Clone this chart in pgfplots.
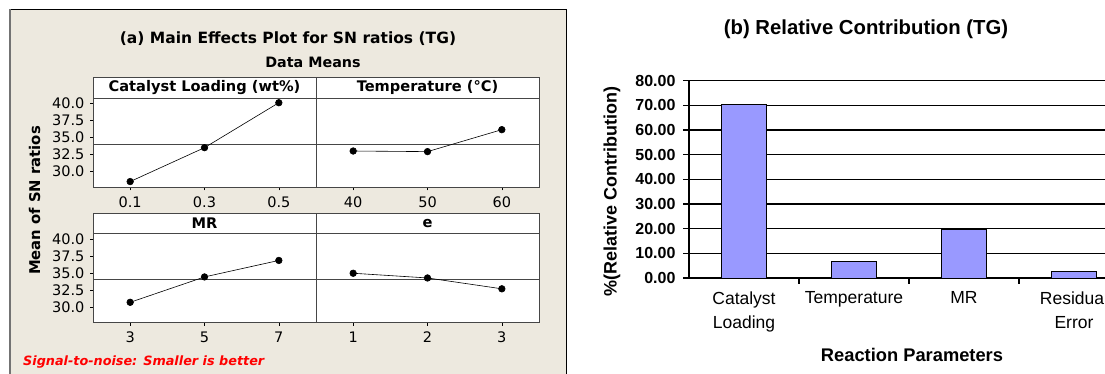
\documentclass[border=0pt]{standalone}
\usepackage{pgfplots}
\pgfplotsset{compat=1.18}
\usepackage{fontspec}
\setmainfont{DejaVu Sans}
\newfontfamily\lib{Liberation Sans}
\definecolor{beige}{RGB}{237,233,223}
\definecolor{framec}{RGB}{70,70,70}
\definecolor{barc}{RGB}{153,153,255}
\newcommand{\tf}{\fontsize{14.5}{16}\selectfont}
\newcommand{\hdr}[1]{%
  \draw[framec, line width=0.8pt, fill=white] (rel axis cs:0,1) rectangle (rel axis cs:1,1.2315);
  \node[font=\bfseries\fontsize{14.6}{16}\selectfont] at (rel axis cs:0.5,1.116) {#1};}
\pgfplotsset{
 panel/.style={
  scale only axis, width=223pt, height=89pt,
  xmin=-0.5, xmax=2.5, ymin=27.7, ymax=40.75,
  axis line style={framec, line width=0.8pt},
  axis background/.style={fill=white},
  xtick={0,1,2},
  tick align=outside, major tick length=3pt,
  xtick pos=bottom, ytick pos=left,
  tick style={black, line width=0.6pt},
  ytick={30,32.5,35,37.5,40},
  yticklabels={{\tf 30.0},{\tf 32.5},{\tf 35.0},{\tf 37.5},{\tf 40.0}},
  yticklabel style={xshift=-2pt},
  xticklabel style={yshift=-3pt},
  clip=false},
 panelr/.style={panel, ytick=\empty},
}

\begin{document}
\begin{tikzpicture}
\path[use as bounding box] (0pt,0pt) rectangle (1105pt,374pt);
\clip (0pt,0pt) rectangle (1105pt,374pt);
% left panel background
\fill[beige] (10pt,0pt) rectangle (566pt,364.7pt);
\draw[black, line width=1pt] (10pt,364.7pt) -- (566pt,364.7pt) -- (566pt,0pt);
\draw[black!55, line width=2pt] (10pt,0pt) -- (10pt,364.7pt);

\node[font=\bfseries\fontsize{15.5}{17}\selectfont] at (288pt,335.7pt) {(a) Main Effects Plot for SN ratios (TG)};
\node[font=\bfseries\fontsize{14.3}{16}\selectfont] at (313pt,311.7pt) {Data Means};
\node[font=\bfseries\fontsize{14.8}{16}\selectfont, rotate=90] at (34.5pt,173.5pt) {Mean of SN ratios};
\node[font=\bfseries\itshape\fontsize{12.8}{14}\selectfont, text=red, anchor=west, inner sep=0pt] at (23pt,12pt) {Signal-to-noise: Smaller is better};

% top-left
\begin{axis}[panel, at={(93pt,186.7pt)}, anchor=south west,
  xticklabels={{\tf 0.1},{\tf 0.3},{\tf 0.5}}]
\addplot[framec, line width=0.6pt] coordinates {(-0.5,34.03) (2.5,34.03)};
\addplot[black, line width=0.6pt, mark=*, mark size=3.3pt] coordinates {(0,28.54) (1,33.51) (2,40.10)};
\hdr{Catalyst Loading (wt\%)}
\end{axis}
% top-right
\begin{axis}[panelr, at={(316pt,186.7pt)}, anchor=south west,
  xticklabels={{\tf 40},{\tf 50},{\tf 60}}]
\addplot[framec, line width=0.6pt] coordinates {(-0.5,34.03) (2.5,34.03)};
\addplot[black, line width=0.6pt, mark=*, mark size=3.3pt] coordinates {(0,33.02) (1,32.93) (2,36.15)};
\hdr{Temperature (°C)}
\end{axis}
% bottom-left
\begin{axis}[panel, at={(93pt,51.3pt)}, anchor=south west,
  xticklabels={{\tf 3},{\tf 5},{\tf 7}}]
\addplot[framec, line width=0.6pt] coordinates {(-0.5,34.03) (2.5,34.03)};
\addplot[black, line width=0.6pt, mark=*, mark size=3.3pt] coordinates {(0,30.69) (1,34.41) (2,36.83)};
\hdr{MR}
\end{axis}
% bottom-right
\begin{axis}[panelr, at={(316pt,51.3pt)}, anchor=south west,
  xticklabels={{\tf 1},{\tf 2},{\tf 3}}]
\addplot[framec, line width=0.6pt] coordinates {(-0.5,34.03) (2.5,34.03)};
\addplot[black, line width=0.6pt, mark=*, mark size=3.3pt] coordinates {(0,34.95) (1,34.26) (2,32.67)};
\hdr{e}
\end{axis}

% right chart
\node[font=\lib\bfseries\fontsize{20.3}{22}\selectfont] at (866pt,345pt) {(b) Relative Contribution (TG)};
\node[font=\lib\bfseries\fontsize{18}{20}\selectfont, rotate=90] at (612pt,182.5pt) {\%(Relative Contribution)};
\node[font=\lib\bfseries\fontsize{18.3}{20}\selectfont] at (912pt,19pt) {Reaction Parameters};
\begin{axis}[at={(689pt,96pt)}, anchor=south west, scale only axis, width=440pt, height=197.3pt,
  xmin=-0.5, xmax=3.5, ymin=0, ymax=80, ytick={0,10,...,80},
  axis lines=left, axis line style={-, black, line width=1.2pt},
  ymajorgrids, grid style={black, line width=1.2pt},
  tick align=outside, tick style={black, line width=1.2pt},
  xtick={0,1,2,3}, major tick length=6pt,
  major x tick style={draw=none},
  minor xtick={0.5,1.5,2.5}, minor tick length=6pt,
  xticklabels={Catalyst\\Loading, Temperature, MR, Residual\\Error},
  xticklabel style={align=center, font=\lib\fontsize{17.5}{24}\selectfont, yshift=-4pt},
  yticklabel style={font=\lib\bfseries\fontsize{16}{18}\selectfont, xshift=-4pt,
    /pgf/number format/.cd, fixed, fixed zerofill, precision=2, assume math mode=true},
  clip=false]
\addplot[ybar, bar width=45pt, fill=barc, draw=black, line width=0.6pt] coordinates {(0,70.5) (1,6.8) (2,19.6) (3,2.7)};
\end{axis}
\end{tikzpicture}
\end{document}
